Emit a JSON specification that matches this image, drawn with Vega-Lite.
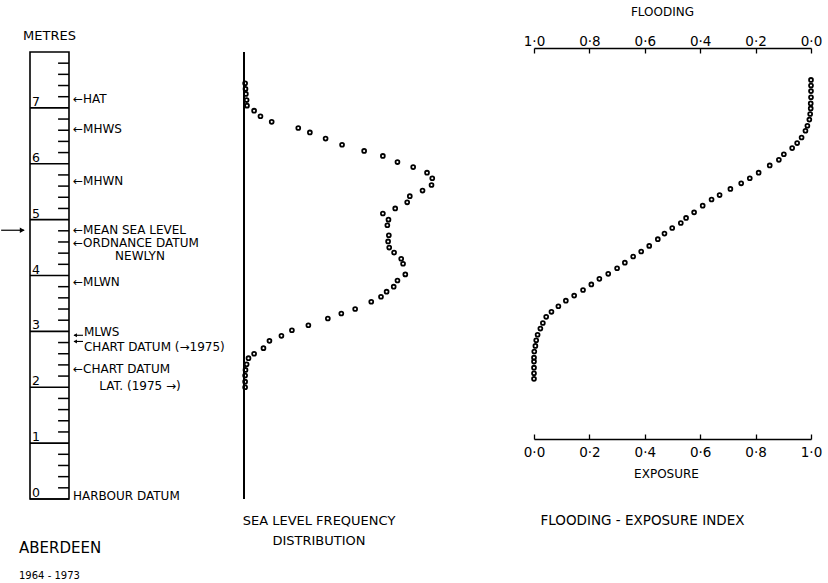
{
  "$schema": "https://vega.github.io/schema/vega-lite/v6.json",
  "padding": {"left": 0, "top": 5, "right": 5, "bottom": 0},
  "bounds": "flush",
  "spacing": 28,
  "config": {
    "view": {"stroke": null},
    "font": "DejaVu Sans",
    "axis": {"domainColor": "black", "tickColor": "black", "labelColor": "black", "titleColor": "black", "labelFontSize": 13.5, "titleFontSize": 12, "titleFontWeight": "normal", "grid": false, "domainWidth": 1.3, "tickWidth": 1.3, "labelFlush": false, "labelOverlap": false},
    "title": {"color": "black", "fontWeight": "normal", "frame": "group"}
  },
  "datasets": {
    "numbers": [{"m": 0, "n": "0"}, {"m": 1, "n": "1"}, {"m": 2, "n": "2"}, {"m": 3, "n": "3"}, {"m": 4, "n": "4"}, {"m": 5, "n": "5"}, {"m": 6, "n": "6"}, {"m": 7, "n": "7"}],
    "minor": [{"m": 0.2}, {"m": 0.4}, {"m": 0.6}, {"m": 0.8}, {"m": 1.2}, {"m": 1.4}, {"m": 1.6}, {"m": 1.8}, {"m": 2.2}, {"m": 2.4}, {"m": 2.6}, {"m": 2.8}, {"m": 3.2}, {"m": 3.4}, {"m": 3.6}, {"m": 3.8}, {"m": 4.2}, {"m": 4.4}, {"m": 4.6}, {"m": 4.8}, {"m": 5.2}, {"m": 5.4}, {"m": 5.6}, {"m": 5.8}, {"m": 6.2}, {"m": 6.4}, {"m": 6.6}, {"m": 6.8}, {"m": 7.2}, {"m": 7.4}, {"m": 7.6}, {"m": 7.8}],
    "levels": [
      {"m": 7.15, "label": "\u2190HAT", "kind": "a"},
      {"m": 6.63, "label": "\u2190MHWS", "kind": "a"},
      {"m": 5.69, "label": "\u2190MHWN", "kind": "a"},
      {"m": 4.82, "label": "\u2190MEAN SEA LEVEL", "kind": "a"},
      {"m": 4.58, "label": "\u2190ORDNANCE DATUM", "kind": "a"},
      {"m": 4.35, "label": "NEWLYN", "kind": "c"},
      {"m": 3.89, "label": "\u2190MLWN", "kind": "a"},
      {"m": 2.99, "label": "MLWS", "kind": "b"},
      {"m": 2.72, "label": "CHART DATUM (\u21921975)", "kind": "b"},
      {"m": 2.33, "label": "\u2190CHART DATUM", "kind": "a"},
      {"m": 2.03, "label": "LAT. (1975 \u2192)", "kind": "c"},
      {"m": 0.06, "label": "HARBOUR DATUM", "kind": "a"}
    ],
    "arrows": [{"m": 2.93}, {"m": 2.82}],
    "freq": [
      {"m": 7.44, "f": 0.03}, {"m": 7.34, "f": 0.04}, {"m": 7.25, "f": 0.05}, {"m": 7.14, "f": 0.07}, {"m": 7.04, "f": 0.08},
      {"m": 6.95, "f": 0.27}, {"m": 6.85, "f": 0.44}, {"m": 6.75, "f": 0.74}, {"m": 6.64, "f": 1.45}, {"m": 6.56, "f": 1.76},
      {"m": 6.45, "f": 2.18}, {"m": 6.34, "f": 2.62}, {"m": 6.23, "f": 3.21}, {"m": 6.14, "f": 3.71}, {"m": 6.03, "f": 4.10},
      {"m": 5.94, "f": 4.52}, {"m": 5.84, "f": 4.89}, {"m": 5.74, "f": 5.03}, {"m": 5.62, "f": 5.01}, {"m": 5.52, "f": 4.77},
      {"m": 5.42, "f": 4.43}, {"m": 5.31, "f": 4.36}, {"m": 5.20, "f": 4.04}, {"m": 5.11, "f": 3.71}, {"m": 5.00, "f": 3.86},
      {"m": 4.90, "f": 3.83}, {"m": 4.72, "f": 3.87}, {"m": 4.61, "f": 3.85}, {"m": 4.50, "f": 3.88}, {"m": 4.41, "f": 4.01},
      {"m": 4.30, "f": 4.20}, {"m": 4.21, "f": 4.25}, {"m": 4.02, "f": 4.31}, {"m": 3.91, "f": 4.10}, {"m": 3.80, "f": 4.00},
      {"m": 3.71, "f": 3.81}, {"m": 3.62, "f": 3.66}, {"m": 3.53, "f": 3.40}, {"m": 3.40, "f": 2.97}, {"m": 3.32, "f": 2.60},
      {"m": 3.23, "f": 2.24}, {"m": 3.11, "f": 1.72}, {"m": 3.02, "f": 1.28}, {"m": 2.92, "f": 1.00}, {"m": 2.83, "f": 0.68},
      {"m": 2.70, "f": 0.52}, {"m": 2.60, "f": 0.27}, {"m": 2.52, "f": 0.12}, {"m": 2.41, "f": 0.07}, {"m": 2.31, "f": 0.04},
      {"m": 2.21, "f": 0.03}, {"m": 2.10, "f": 0.03}, {"m": 2.00, "f": 0.03}
    ],
    "fe": [
      {"m": 7.50, "e": 1.000}, {"m": 7.40, "e": 1.000}, {"m": 7.30, "e": 1.000}, {"m": 7.19, "e": 1.000}, {"m": 7.08, "e": 0.999},
      {"m": 6.99, "e": 0.999}, {"m": 6.89, "e": 0.997}, {"m": 6.79, "e": 0.994}, {"m": 6.68, "e": 0.987}, {"m": 6.59, "e": 0.980},
      {"m": 6.47, "e": 0.966}, {"m": 6.37, "e": 0.950}, {"m": 6.28, "e": 0.932}, {"m": 6.17, "e": 0.902}, {"m": 6.07, "e": 0.884},
      {"m": 5.97, "e": 0.851}, {"m": 5.84, "e": 0.811}, {"m": 5.74, "e": 0.779}, {"m": 5.65, "e": 0.748}, {"m": 5.55, "e": 0.709},
      {"m": 5.44, "e": 0.670}, {"m": 5.36, "e": 0.641}, {"m": 5.25, "e": 0.609}, {"m": 5.13, "e": 0.578}, {"m": 5.03, "e": 0.549},
      {"m": 4.94, "e": 0.530}, {"m": 4.85, "e": 0.499}, {"m": 4.75, "e": 0.471}, {"m": 4.65, "e": 0.447}, {"m": 4.53, "e": 0.416},
      {"m": 4.43, "e": 0.387}, {"m": 4.34, "e": 0.358}, {"m": 4.23, "e": 0.328}, {"m": 4.13, "e": 0.300}, {"m": 4.03, "e": 0.268},
      {"m": 3.94, "e": 0.236}, {"m": 3.84, "e": 0.207}, {"m": 3.74, "e": 0.177}, {"m": 3.64, "e": 0.145}, {"m": 3.55, "e": 0.115},
      {"m": 3.45, "e": 0.088}, {"m": 3.35, "e": 0.063}, {"m": 3.26, "e": 0.044}, {"m": 3.15, "e": 0.032}, {"m": 3.05, "e": 0.023},
      {"m": 2.94, "e": 0.013}, {"m": 2.84, "e": 0.008}, {"m": 2.74, "e": 0.005}, {"m": 2.64, "e": 0.001}, {"m": 2.53, "e": 0.000},
      {"m": 2.46, "e": 0.000}, {"m": 2.35, "e": 0.000}, {"m": 2.25, "e": 0.000}, {"m": 2.15, "e": 0.000}
    ]
  },
  "hconcat": [
    {
      "width": 186,
      "height": 447,
      "title": {"text": "ABERDEEN", "subtitle": "1964 - 1973", "orient": "bottom", "anchor": "start", "dx": -11, "offset": 39, "fontSize": 15, "subtitleFontSize": 10, "subtitleColor": "black", "subtitlePadding": 15},
      "layer": [
        {
          "data": {"values": [{"lo": 0, "hi": 8}]},
          "mark": {"type": "rect", "fillOpacity": 0, "stroke": "black", "strokeWidth": 1.6},
          "encoding": {
            "x": {"datum": 0, "type": "quantitative", "scale": {"domain": [0, 4.77], "nice": false, "zero": false}, "axis": null},
            "x2": {"datum": 1},
            "y": {"field": "lo", "type": "quantitative", "scale": {"domain": [0, 8], "nice": false}, "axis": null},
            "y2": {"field": "hi"}
          }
        },
        {
          "data": {"name": "numbers"},
          "mark": {"type": "rule", "color": "black", "strokeWidth": 1.6},
          "encoding": {
            "x": {"datum": 0, "type": "quantitative", "scale": {"domain": [0, 4.77], "nice": false, "zero": false}, "axis": null},
            "x2": {"datum": 1},
            "y": {"field": "m", "type": "quantitative", "scale": {"domain": [0, 8], "nice": false}, "axis": null}
          }
        },
        {
          "data": {"name": "minor"},
          "mark": {"type": "rule", "color": "black", "strokeWidth": 1.5},
          "encoding": {
            "x": {"datum": 0.72, "type": "quantitative", "scale": {"domain": [0, 4.77], "nice": false, "zero": false}, "axis": null},
            "x2": {"datum": 1},
            "y": {"field": "m", "type": "quantitative", "scale": {"domain": [0, 8], "nice": false}, "axis": null}
          }
        },
        {
          "data": {"name": "numbers"},
          "mark": {"type": "text", "align": "left", "baseline": "alphabetic", "dx": 2, "dy": -2, "fontSize": 12.5, "color": "black"},
          "encoding": {
            "x": {"datum": 0, "type": "quantitative", "scale": {"domain": [0, 4.77], "nice": false, "zero": false}, "axis": null},
            "y": {"field": "m", "type": "quantitative", "scale": {"domain": [0, 8], "nice": false}, "axis": null},
            "text": {"field": "n"}
          }
        },
        {
          "data": {"name": "levels"},
          "transform": [{"filter": "datum.kind === 'a'"}],
          "mark": {"type": "text", "align": "left", "baseline": "middle", "dx": 4, "fontSize": 12, "color": "black"},
          "encoding": {
            "x": {"datum": 1, "type": "quantitative", "scale": {"domain": [0, 4.77], "nice": false, "zero": false}, "axis": null},
            "y": {"field": "m", "type": "quantitative", "scale": {"domain": [0, 8], "nice": false}, "axis": null},
            "text": {"field": "label"}
          }
        },
        {
          "data": {"name": "levels"},
          "transform": [{"filter": "datum.kind === 'b'"}],
          "mark": {"type": "text", "align": "left", "baseline": "middle", "dx": 15, "fontSize": 12, "color": "black"},
          "encoding": {
            "x": {"datum": 1, "type": "quantitative", "scale": {"domain": [0, 4.77], "nice": false, "zero": false}, "axis": null},
            "y": {"field": "m", "type": "quantitative", "scale": {"domain": [0, 8], "nice": false}, "axis": null},
            "text": {"field": "label"}
          }
        },
        {
          "data": {"name": "levels"},
          "transform": [{"filter": "datum.kind === 'c'"}],
          "mark": {"type": "text", "align": "center", "baseline": "middle", "dx": 71, "fontSize": 12, "color": "black"},
          "encoding": {
            "x": {"datum": 1, "type": "quantitative", "scale": {"domain": [0, 4.77], "nice": false, "zero": false}, "axis": null},
            "y": {"field": "m", "type": "quantitative", "scale": {"domain": [0, 8], "nice": false}, "axis": null},
            "text": {"field": "label"}
          }
        },
        {
          "data": {"name": "arrows"},
          "mark": {"type": "rule", "color": "black", "strokeWidth": 1.1},
          "encoding": {
            "x": {"datum": 1.13, "type": "quantitative", "scale": {"domain": [0, 4.77], "nice": false, "zero": false}, "axis": null},
            "x2": {"datum": 1.36},
            "y": {"field": "m", "type": "quantitative", "scale": {"domain": [0, 8], "nice": false}, "axis": null}
          }
        },
        {
          "data": {"name": "arrows"},
          "mark": {"type": "point", "shape": "triangle-left", "filled": true, "size": 16, "color": "black", "opacity": 1},
          "encoding": {
            "x": {"datum": 1.16, "type": "quantitative", "scale": {"domain": [0, 4.77], "nice": false, "zero": false}, "axis": null},
            "y": {"field": "m", "type": "quantitative", "scale": {"domain": [0, 8], "nice": false}, "axis": null}
          }
        },
        {
          "data": {"values": [{"m": 4.81}]},
          "mark": {"type": "rule", "color": "black", "strokeWidth": 1.2},
          "encoding": {
            "x": {"datum": -0.74, "type": "quantitative", "scale": {"domain": [0, 4.77], "nice": false, "zero": false}, "axis": null},
            "x2": {"datum": -0.15},
            "y": {"field": "m", "type": "quantitative", "scale": {"domain": [0, 8], "nice": false}, "axis": null}
          }
        },
        {
          "data": {"values": [{"m": 4.81}]},
          "mark": {"type": "point", "shape": "triangle-right", "filled": true, "size": 30, "color": "black", "opacity": 1},
          "encoding": {
            "x": {"datum": -0.2, "type": "quantitative", "scale": {"domain": [0, 4.77], "nice": false, "zero": false}, "axis": null},
            "y": {"field": "m", "type": "quantitative", "scale": {"domain": [0, 8], "nice": false}, "axis": null}
          }
        },
        {
          "data": {"values": [{"t": "METRES"}]},
          "mark": {"type": "text", "align": "center", "baseline": "middle", "dy": -16, "fontSize": 13, "color": "black"},
          "encoding": {
            "x": {"datum": 0.5, "type": "quantitative", "scale": {"domain": [0, 4.77], "nice": false, "zero": false}, "axis": null},
            "y": {"datum": 8, "type": "quantitative", "scale": {"domain": [0, 8], "nice": false}, "axis": null},
            "text": {"field": "t"}
          }
        }
      ]
    },
    {
      "width": 262,
      "height": 447,
      "title": {"text": ["SEA LEVEL FREQUENCY", "DISTRIBUTION"], "orient": "bottom", "anchor": "start", "align": "center", "dx": 75, "offset": 15, "fontSize": 13, "lineHeight": 20},
      "layer": [
        {
          "data": {"values": [{"f": 0, "lo": 0, "hi": 8}]},
          "mark": {"type": "rule", "color": "black", "strokeWidth": 2},
          "encoding": {
            "x": {"field": "f", "type": "quantitative", "scale": {"domain": [0, 7], "nice": false}, "axis": null},
            "y": {"field": "lo", "type": "quantitative", "scale": {"domain": [0, 8], "nice": false}, "axis": null},
            "y2": {"field": "hi"}
          }
        },
        {
          "data": {"name": "freq"},
          "mark": {"type": "point", "shape": "circle", "filled": false, "size": 15, "strokeWidth": 1.8, "color": "black", "opacity": 1},
          "encoding": {
            "x": {"field": "f", "type": "quantitative", "scale": {"domain": [0, 7], "nice": false}, "axis": null},
            "y": {"field": "m", "type": "quantitative", "scale": {"domain": [0, 8], "nice": false}, "axis": null}
          }
        }
      ]
    },
    {
      "width": 277,
      "height": 447,
      "title": {"text": "FLOODING - EXPOSURE INDEX", "orient": "bottom", "anchor": "middle", "dx": -30, "offset": 15, "fontSize": 13.5},
      "resolve": {"scale": {"x": "independent"}, "axis": {"x": "independent"}},
      "layer": [
        {
          "data": {"name": "fe"},
          "mark": {"type": "point", "shape": "circle", "filled": false, "size": 15, "strokeWidth": 1.8, "color": "black", "opacity": 1},
          "encoding": {
            "x": {
              "field": "e", "type": "quantitative",
              "scale": {"domain": [0, 1], "nice": false},
              "axis": {"orient": "bottom", "offset": -60, "values": [0, 0.2, 0.4, 0.6, 0.8, 1], "labelExpr": "replace(format(datum.value, '.1f'), '.', '\u00b7')", "title": "EXPOSURE", "titleX": 132, "tickSize": -5, "labelPadding": 11, "titlePadding": 10}
            },
            "y": {"field": "m", "type": "quantitative", "scale": {"domain": [0, 8], "nice": false}, "axis": null}
          }
        },
        {
          "data": {"values": [{"fl": 0}, {"fl": 1}]},
          "mark": {"type": "point", "opacity": 0},
          "encoding": {
            "x": {
              "field": "fl", "type": "quantitative",
              "scale": {"domain": [0, 1], "nice": false, "reverse": true},
              "axis": {"orient": "top", "offset": 4, "values": [0, 0.2, 0.4, 0.6, 0.8, 1], "labelExpr": "replace(format(datum.value, '.1f'), '.', '\u00b7')", "title": "FLOODING", "titleX": 128, "tickSize": -5, "labelPadding": 5, "titlePadding": 16}
            }
          }
        }
      ]
    }
  ]
}
